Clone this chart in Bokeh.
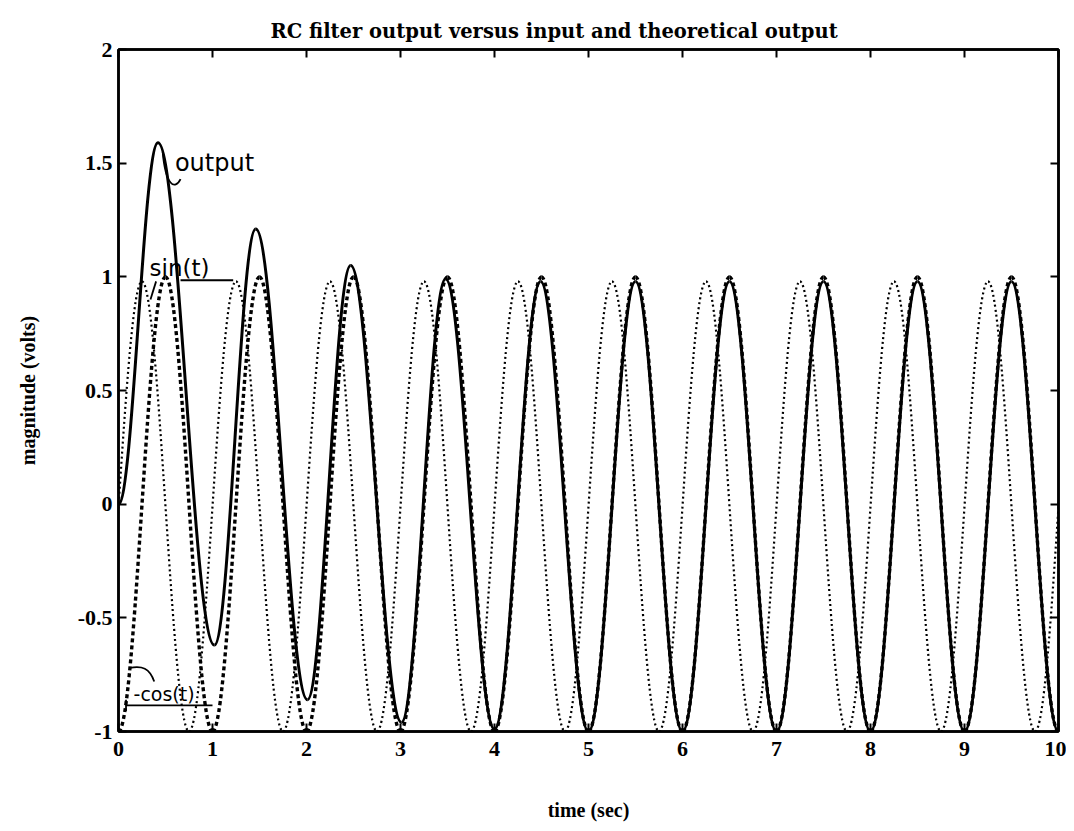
import numpy as np
from bokeh.plotting import figure
from bokeh.models import LinearAxis, FixedTicker, Range1d, ColumnDataSource
from bokeh.core.properties import value
from bokeh.embed import file_html
from bokeh.resources import INLINE

# ---- data (extrema of each curve, time in sec) ----
out_t = [0.0, 0.42, 1.02, 1.46, 2.01, 2.47, 3.01, 3.48, 4.0, 4.49, 5.0,
         5.5, 6.0, 6.5, 7.0, 7.5, 8.0, 8.5, 9.0, 9.5, 10.0]
out_v = [0.0, 1.59, -0.62, 1.21, -0.86, 1.05, -0.96, 0.99, -0.99, 0.98, -1.0,
         0.98, -1.0, 0.98, -1.0, 0.98, -1.0, 0.98, -1.0, 0.98, -1.0]

sin_t = [-0.25, 0.25, 0.75, 1.25, 1.75, 2.25, 2.75, 3.25, 3.75, 4.25, 4.75,
         5.25, 5.75, 6.25, 6.75, 7.25, 7.75, 8.25, 8.75, 9.25, 9.75, 10.25]
sin_v = [-1.0, 0.98, -1.0, 0.98, -1.0, 0.98, -1.0, 0.98, -1.0, 0.98, -1.0,
         0.98, -1.0, 0.98, -1.0, 0.98, -1.0, 0.98, -1.0, 0.98, -1.0, 0.98]

cos_t = [0.0, 0.5, 1.0, 1.5, 2.0, 2.5, 3.0, 3.5, 4.0, 4.5, 5.0,
         5.5, 6.0, 6.5, 7.0, 7.5, 8.0, 8.5, 9.0, 9.5, 10.0]
cos_v = [-1.0, 1.0, -1.0, 1.0, -1.0, 1.0, -1.0, 1.0, -1.0, 1.0, -1.0,
         1.0, -1.0, 1.0, -1.0, 1.0, -1.0, 1.0, -1.0, 1.0, -1.0]

x_ticks = [0, 1, 2, 3, 4, 5, 6, 7, 8, 9, 10]
y_ticks = [-1, -0.5, 0, 0.5, 1, 1.5, 2]
y_tick_labels = {-1: "-1", -0.5: "-0.5", 0: "0", 0.5: "0.5", 1: "1", 1.5: "1.5", 2: "2"}

TITLE = "RC filter output versus input and theoretical output"
XLABEL = "time (sec)"
YLABEL = "magnitude (volts)"


def half_cycles(ts, vs):
    """Smooth half-cycle curves between consecutive extrema (horizontal tangents)."""
    t = np.asarray(ts, float)
    v = np.asarray(vs, float)
    a = 0.3634
    dx = t[1:] - t[:-1]
    return ColumnDataSource(dict(
        x0=t[:-1], y0=v[:-1], x1=t[1:], y1=v[1:],
        cx0=t[:-1] + a * dx, cy0=v[:-1],
        cx1=t[1:] - a * dx, cy1=v[1:]))


p = figure(width=1066, height=823, x_range=Range1d(0, 10), y_range=Range1d(-1, 2),
           output_backend="svg", toolbar_location=None, title=TITLE,
           min_border_left=118, min_border_right=8, min_border_top=49,
           min_border_bottom=87)
p.background_fill_color = "white"
p.border_fill_color = "white"
p.xgrid.visible = False
p.ygrid.visible = False
p.outline_line_color = "black"
p.outline_line_width = 2.5

p.title.text_font = "DejaVu Serif"
p.title.text_font_style = "bold"
p.title.text_font_size = "19.5px"
p.title.text_color = "black"
p.title.align = "left"
p.title.offset = 152
p.title.standoff = 14

bez = dict(x0="x0", y0="y0", x1="x1", y1="y1", cx0="cx0", cy0="cy0", cx1="cx1", cy1="cy1")
p.bezier(source=half_cycles(sin_t, sin_v), line_color="black", line_width=2.2,
         line_dash="2 3", **bez)
p.bezier(source=half_cycles(cos_t, cos_v), line_color="black", line_width=3.4,
         line_dash="4 3", **bez)
p.bezier(source=half_cycles(out_t, out_v), line_color="black", line_width=3.0, **bez)


def style_axis(ax, ticks, show_labels):
    ax.ticker = FixedTicker(ticks=ticks)
    ax.axis_line_width = 2.5
    ax.axis_line_color = "black"
    ax.major_tick_in = 8
    ax.major_tick_out = 0
    ax.major_tick_line_width = 2
    ax.major_tick_line_color = "black"
    ax.minor_tick_line_color = None
    ax.major_label_text_font = "Liberation Serif"
    ax.major_label_text_font_style = "bold"
    ax.major_label_text_font_size = "22px"
    ax.major_label_text_color = "black"
    if not show_labels:
        ax.major_label_overrides = {t: "" for t in ticks}
    ax.major_label_standoff = 6
    ax.axis_label_text_font = "Liberation Serif"
    ax.axis_label_text_font_style = "bold"
    ax.axis_label_text_font_size = "20px"
    ax.axis_label_text_color = "black"


style_axis(p.xaxis[0], x_ticks, True)
style_axis(p.yaxis[0], y_ticks, True)
p.yaxis[0].major_label_overrides = y_tick_labels
p.xaxis[0].major_label_standoff = 10
p.xaxis[0].axis_label = XLABEL
p.xaxis[0].axis_label_standoff = 40
p.yaxis[0].axis_label = YLABEL
p.yaxis[0].axis_label_standoff = 36

top = LinearAxis()
style_axis(top, x_ticks, False)
p.add_layout(top, "above")
right = LinearAxis()
style_axis(right, y_ticks, False)
p.add_layout(right, "right")

# ---- hand-written annotations ----
hand = value("DejaVu Sans")
p.text(x=[0.6], y=[1.5], text=["output"], text_font=hand, text_font_size="24px",
       text_baseline="middle", text_color="black")
p.text(x=[0.33], y=[1.04], text=["sin(t)"], text_font=hand, text_font_size="23px",
       text_baseline="middle", text_color="black")
p.text(x=[0.16], y=[-0.835], text=["-cos(t)"], text_font=hand, text_font_size="19px",
       text_baseline="middle", text_color="black")
p.line(x=[0.66, 1.22], y=[0.985, 0.985], line_color="black", line_width=1.8)
p.line(x=[0.40, 0.34], y=[0.98, 0.90], line_color="black", line_width=1.8)
p.line(x=[0.08, 1.0], y=[-0.885, -0.885], line_color="black", line_width=1.8)
p.line(x=[0.08, 0.08], y=[-0.86, -0.91], line_color="black", line_width=1.8)
p.bezier(x0=[0.47], y0=[1.55], x1=[0.66], y1=[1.43], cx0=[0.5], cy0=[1.4],
         cx1=[0.6], cy1=[1.38], line_color="black", line_width=1.8)
p.bezier(x0=[0.12], y0=[-0.72], x1=[0.38], y1=[-0.78], cx0=[0.25], cy0=[-0.71],
         cx1=[0.33], cy1=[-0.72], line_color="black", line_width=1.8)

open("out.html", "w").write(file_html(p, INLINE))
